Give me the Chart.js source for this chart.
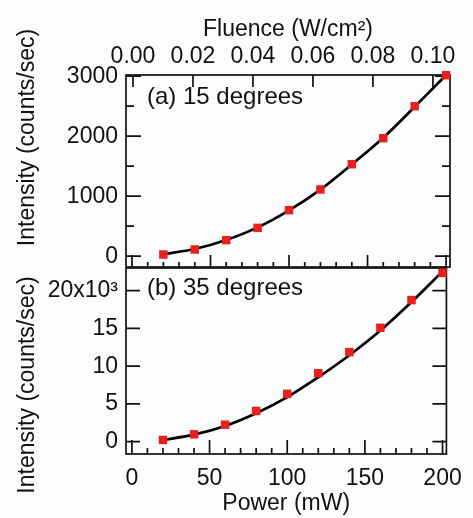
<!DOCTYPE html>
<html>
<head>
<meta charset="utf-8">
<script src="https://cdn.jsdelivr.net/npm/chart.js@4.4.1/dist/chart.umd.min.js"></script>
<style>
  body { margin: 0; background: #fbfcfe; }
  #wrap { position: relative; width: 473px; height: 518px; }
  canvas { position: absolute; left: 0; top: 0; }
</style>
</head>
<body>
<div id="wrap">
  <canvas id="top" width="473" height="518"></canvas>
  <canvas id="bottom" width="473" height="518"></canvas>
</div>
<script>
// values
const power = [20, 40, 60, 80, 100, 120, 140, 160, 180, 200];
const int15 = [28, 112, 267, 472, 767, 1112, 1533, 1967, 2500, 3017];
const fit15 = [35, 120, 270, 480, 765, 1110, 1530, 1975, 2490, 3020];
const int35 = [230, 980, 2250, 4070, 6330, 9070, 11860, 15080, 18750, 22350];
const fit35 = [230, 930, 2080, 3760, 5900, 8540, 11450, 14720, 18490, 22550];

// tick labels
const powerTicks = [0, 50, 100, 150, 200];
const powerMinor = [10, 20, 30, 40, 60, 70, 80, 90, 110, 120, 130, 140, 160, 170, 180, 190];
const fluenceTicks = [0, 0.02, 0.04, 0.06, 0.08, 0.10];
const ticks15 = [0, 1000, 2000, 3000];
const minor15 = [500, 1500, 2500];
const ticks35 = [0, 5000, 10000, 15000, 20000];
const labels35 = ['0', '5', '10', '15', '20x10\u00b3'];

const red = '#e8211f';
const FONT = '"Liberation Sans", Arial, Helvetica, sans-serif';
Chart.defaults.font.family = FONT;
Chart.defaults.font.size = 23;
Chart.defaults.color = '#111';

const pts = (xs, ys) => xs.map((x, i) => ({x: x, y: ys[i]}));
const noGrid = { display: false, drawTicks: false };

// frame box with inward ticks on all sides, plus in-plot texts
function frameTicks(spec) {
  return {
    id: 'frameTicks',
    beforeDatasetsDraw(chart) {
      const ctx = chart.ctx;
      const {left, right, top, bottom} = chart.chartArea;
      ctx.save();
      ctx.strokeStyle = '#111';
      ctx.lineWidth = 1.7;
      ctx.beginPath();
      spec.ticks.forEach(t => {
        const s = chart.scales[t.scale];
        t.values.forEach(v => {
          const p = s.getPixelForValue(v);
          if (t.at === 'bottom') { ctx.moveTo(p, bottom); ctx.lineTo(p, bottom - t.len); }
          if (t.at === 'top') { ctx.moveTo(p, top); ctx.lineTo(p, top + t.len); }
          if (t.at === 'sides') {
            ctx.moveTo(left, p); ctx.lineTo(left + t.len, p);
            ctx.moveTo(right, p); ctx.lineTo(right - t.len, p);
          }
        });
      });
      ctx.stroke();
      ctx.strokeRect(left, top, right - left, bottom - top);
      ctx.restore();
    },
    afterDraw(chart) {
      const ctx = chart.ctx;
      ctx.save();
      ctx.fillStyle = '#111';
      ctx.font = '24px ' + FONT;
      ctx.textAlign = 'left';
      ctx.textBaseline = 'middle';
      ctx.fillText(spec.label, chart.chartArea.left + 21, spec.labelY);
      ctx.font = '23px ' + FONT;
      ctx.textAlign = 'center';
      ctx.translate(28, spec.titleY);
      ctx.rotate(-Math.PI / 2);
      ctx.fillText('Intensity (counts/sec)', 0, 0);
      ctx.restore();
    }
  };
}

const topChart = new Chart(document.getElementById('top'), {
  type: 'scatter',
  data: {
    datasets: [{
      label: '15 degrees',
      data: pts(power, int15),
      pointStyle: 'rect',
      pointRadius: 6,
      pointBorderWidth: 0,
      pointBackgroundColor: red,
      order: 0,
      clip: false
    }, {
      type: 'line',
      label: 'fit',
      data: pts(power, fit15),
      borderColor: '#000',
      borderWidth: 2.7,
      pointRadius: 0,
      cubicInterpolationMode: 'monotone',
      fill: false,
      order: 1,
      clip: false
    }]
  },
  options: {
    responsive: false,
    animation: false,
    devicePixelRatio: 1,
    layout: { padding: { left: 0, right: 23, top: 0, bottom: 251 } },
    plugins: { legend: { display: false }, tooltip: { enabled: false } },
    scales: {
      x: { type: 'linear', min: -3.8, max: 202.5, display: false },
      x2: {
        type: 'linear', position: 'top', min: -0.00233, max: 0.1057,
        grid: noGrid, border: { display: false },
        afterBuildTicks: s => { s.ticks = fluenceTicks.map(v => ({value: v})); },
        afterFit: s => { s.height = 75; },
        ticks: { padding: 5, autoSkip: false, maxRotation: 0, callback: v => Number(v).toFixed(2) },
        title: { display: true, text: 'Fluence (W/cm\u00b2)', padding: { top: 16, bottom: 0 } }
      },
      y: {
        type: 'linear', min: -180, max: 3020,
        grid: noGrid, border: { display: false },
        afterBuildTicks: s => { s.ticks = ticks15.map(v => ({value: v})); },
        afterFit: s => { s.width = 126; },
        ticks: { padding: 8, autoSkip: false, callback: v => String(v) }
      }
    }
  },
  plugins: [frameTicks({
    ticks: [
      { scale: 'x', at: 'bottom', values: powerTicks, len: 12 },
      { scale: 'x', at: 'bottom', values: powerMinor, len: 5 },
      { scale: 'x2', at: 'top', values: fluenceTicks, len: 12 },
      { scale: 'y', at: 'sides', values: ticks15, len: 15 },
      { scale: 'y', at: 'sides', values: minor15, len: 8 }
    ],
    label: '(a) 15 degrees',
    labelY: 97,
    titleY: 137.5
  })]
});

const bottomChart = new Chart(document.getElementById('bottom'), {
  type: 'scatter',
  data: {
    datasets: [{
      label: '35 degrees',
      data: pts(power, int35),
      pointStyle: 'rect',
      pointRadius: 6,
      pointBorderWidth: 0,
      pointBackgroundColor: red,
      order: 0,
      clip: false
    }, {
      type: 'line',
      label: 'fit',
      data: pts(power, fit35),
      borderColor: '#000',
      borderWidth: 2.7,
      pointRadius: 0,
      cubicInterpolationMode: 'monotone',
      fill: false,
      order: 1,
      clip: false
    }]
  },
  options: {
    responsive: false,
    animation: false,
    devicePixelRatio: 1,
    layout: { padding: { left: 0, right: 23, top: 268, bottom: 0 } },
    plugins: { legend: { display: false }, tooltip: { enabled: false } },
    scales: {
      x: {
        type: 'linear', position: 'bottom', min: -3.8, max: 202.5,
        grid: noGrid, border: { display: false },
        afterBuildTicks: s => { s.ticks = powerTicks.map(v => ({value: v})); },
        afterFit: s => { s.height = 64; },
        ticks: { padding: 11, autoSkip: false, maxRotation: 0, callback: v => String(v) },
        title: { display: true, text: 'Power (mW)', padding: { top: 0, bottom: 1 } }
      },
      y: {
        type: 'linear', min: -1630, max: 23000,
        grid: noGrid, border: { display: false },
        afterBuildTicks: s => { s.ticks = ticks35.map(v => ({value: v})); },
        afterFit: s => { s.width = 126; },
        ticks: { padding: 8, autoSkip: false, callback: v => labels35[ticks35.indexOf(v)] }
      }
    }
  },
  plugins: [frameTicks({
    ticks: [
      { scale: 'x', at: 'bottom', values: powerTicks, len: 14 },
      { scale: 'x', at: 'bottom', values: powerMinor, len: 6 },
      { scale: 'y', at: 'sides', values: ticks35, len: 14 }
    ],
    label: '(b) 35 degrees',
    labelY: 288.5,
    titleY: 385
  })]
});
</script>
</body>
</html>
